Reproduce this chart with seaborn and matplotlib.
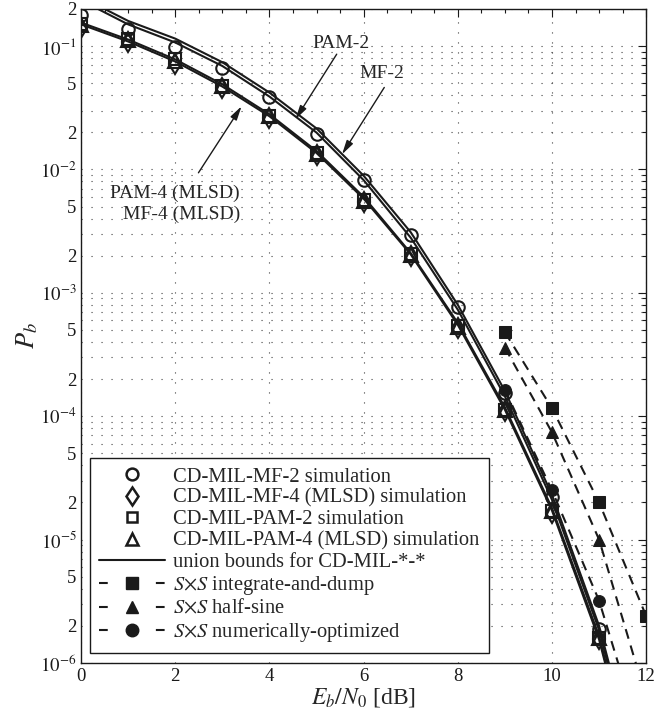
import matplotlib
matplotlib.use("Agg")
import matplotlib.pyplot as plt
import seaborn as sns
from matplotlib.lines import Line2D
from matplotlib.ticker import FixedLocator, FixedFormatter, MultipleLocator

# Eb/N0 grid (dB)
ebn0_bound = [0, 1, 2, 3, 4, 5, 6, 7, 8, 9, 10, 11, 12]
ebn0_sim = [0, 1, 2, 3, 4, 5, 6, 7, 8, 9, 10, 11]
ebn0_sxs = [9, 10, 11, 12]

# union bounds (solid lines)
bound_mf2 = [0.25, 0.16, 0.115, 0.074, 0.042, 0.0215, 0.0089, 0.0031, 8.0e-4, 1.6e-4, 2.3e-5, 2.0e-6, 7e-8]
bound_pam2 = [0.235, 0.15, 0.107, 0.069, 0.039, 0.0199, 0.0082, 0.0028, 7.3e-4, 1.45e-4, 2.1e-5, 1.85e-6, 6e-8]
bound_mf4 = [0.155, 0.113, 0.078, 0.049, 0.028, 0.0141, 0.006, 0.0021, 5.7e-4, 1.18e-4, 1.8e-5, 1.65e-6, 5e-8]
bound_pam4 = [0.15, 0.109, 0.075, 0.047, 0.027, 0.0136, 0.0058, 0.00205, 5.5e-4, 1.13e-4, 1.72e-5, 1.55e-6, 5e-8]

# simulation points (open markers)
sim_mf2 = [0.18, 0.138, 0.098, 0.066, 0.0388, 0.0194, 0.0082, 0.00295, 7.7e-4, 1.55e-4, 2.2e-5, 1.9e-6]
sim_mf4 = [0.14, 0.107, 0.072, 0.046, 0.026, 0.013, 0.0055, 0.002, 5.2e-4, 1.1e-4, 1.65e-5, 1.55e-6]
sim_pam2 = [0.152, 0.114, 0.078, 0.0478, 0.0272, 0.0135, 0.0057, 0.00205, 5.4e-4, 1.12e-4, 1.7e-5, 1.6e-6]
sim_pam4 = [0.148, 0.113, 0.076, 0.0475, 0.027, 0.0133, 0.0056, 0.00204, 5.3e-4, 1.12e-4, 1.7e-5, 1.6e-6]

# SxS systems (dashed with filled markers)
sxs_id = [4.8e-4, 1.16e-4, 2.0e-5, 2.4e-6]
sxs_hs = [3.6e-4, 7.4e-5, 1.0e-5, 5.2e-7]
sxs_opt = [1.64e-4, 2.5e-5, 3.2e-6, 1.8e-7]

legend_labels = [
    "CD-MIL-MF-2 simulation",
    "CD-MIL-MF-4 (MLSD) simulation",
    "CD-MIL-PAM-2 simulation",
    "CD-MIL-PAM-4 (MLSD) simulation",
    "union bounds for CD-MIL-*-*",
    r"$S{\times}S$ integrate-and-dump",
    r"$S{\times}S$ half-sine",
    r"$S{\times}S$ numerically-optimized",
]

sns.set_theme(style="white")
plt.rcParams["font.family"] = ["Liberation Serif", "DejaVu Serif"]
plt.rcParams["mathtext.fontset"] = "stix"

fig = plt.figure(figsize=(6.54, 7.19), dpi=100)
ax = fig.add_axes([0.124, 0.078, 0.864, 0.9095])
ax.set_yscale("log")

LW = 1.5
# union bounds
for yb in [bound_mf2, bound_pam2, bound_mf4, bound_pam4]:
    sns.lineplot(x=ebn0_bound, y=yb, ax=ax, color="k", lw=LW)

# dashed SxS curves
for ys, mk in [(sxs_id, "s"), (sxs_hs, "^"), (sxs_opt, "o")]:
    sns.lineplot(x=ebn0_sxs, y=ys, ax=ax, color="k", lw=LW, marker=mk,
                 ms=8.5, mec="k", mfc="k")
    ax.lines[-1].set_dashes((4.8, 3.4))

# simulation markers
for ys, mk, ms in [(sim_mf2, "o", 9), (sim_mf4, "d", 10), (sim_pam2, "s", 8), (sim_pam4, "^", 9.5)]:
    sns.lineplot(x=ebn0_sim, y=ys, ax=ax, color="k", marker=mk, ms=ms,
                 mfc="none", mec="k", mew=1.5, linestyle="none")

ax.set_xlim(0, 12)
ax.set_ylim(1e-6, 0.2)

# ticks
ax.xaxis.set_major_locator(MultipleLocator(2))
ax.xaxis.set_minor_locator(MultipleLocator(0.5))
major_y = [10.0 ** k for k in range(-6, 0)]
ax.yaxis.set_major_locator(FixedLocator(major_y))
ax.yaxis.set_major_formatter(FixedFormatter([r"$10^{%d}$" % k for k in range(-6, 0)]))
minor_y, minor_lab = [], []
for k in range(-6, 0):
    for m in range(2, 10):
        v = m * 10.0 ** k
        if v <= 0.2 + 1e-12:
            minor_y.append(v)
            minor_lab.append(str(m) if m in (2, 5) else "")
ax.yaxis.set_minor_locator(FixedLocator(minor_y))
ax.yaxis.set_minor_formatter(FixedFormatter(minor_lab))

ax.tick_params(which="both", direction="in", top=True, right=True, colors="k",
               labelsize=13.5, width=0.8)
ax.tick_params(which="major", length=6)
ax.tick_params(which="minor", length=3)
ax.tick_params(axis="y", which="minor", labelsize=13.5)

# grid (MATLAB style dotted)
grid_kw = dict(color="0.25", lw=0.8, linestyle=(0, (1, 8)))
ax.grid(True, which="major", axis="x", **grid_kw)
ax.grid(True, which="both", axis="y", **grid_kw)
for s in ax.spines.values():
    s.set_color("k")
    s.set_linewidth(1.0)

ax.set_xlabel(r"$E_b/N_0$ [dB]", fontsize=17, labelpad=1)
ax.set_ylabel(r"$P_b$", fontsize=19, labelpad=0)

# annotations
arrow_kw = dict(arrowstyle="-|>,head_length=0.7,head_width=0.18", color="k", lw=1)
ax.text(5.51, 0.106, "PAM-2", fontsize=14, ha="center", va="center")
ax.annotate("", xy=(4.52, 0.0244), xytext=(5.46, 0.0899), arrowprops=arrow_kw)
ax.text(6.39, 0.060, "MF-2", fontsize=14, ha="center", va="center")
ax.annotate("", xy=(5.51, 0.0127), xytext=(6.47, 0.0483), arrowprops=arrow_kw)
ax.text(3.37, 0.0053, "PAM-4 (MLSD)\nMF-4 (MLSD)", fontsize=14, ha="right",
        va="center", multialignment="right", linespacing=1.3)
ax.annotate("", xy=(3.44, 0.034), xytext=(2.46, 0.009), arrowprops=arrow_kw)

# legend proxies; dashed ones show a short dash at each end of the handle
leg_dash = (0, (4.2, 23.1))
handles = [
    Line2D([], [], ls="none", marker="o", mfc="none", mec="k", mew=1.8, ms=8.5),
    Line2D([], [], ls="none", marker="d", mfc="none", mec="k", mew=1.8, ms=9.5),
    Line2D([], [], ls="none", marker="s", mfc="none", mec="k", mew=1.8, ms=7.5),
    Line2D([], [], ls="none", marker="^", mfc="none", mec="k", mew=1.8, ms=9),
    Line2D([], [], color="k", lw=LW),
    Line2D([], [], color="k", lw=LW, marker="s", ms=8.5, linestyle=leg_dash),
    Line2D([], [], color="k", lw=LW, marker="^", ms=9, linestyle=leg_dash),
    Line2D([], [], color="k", lw=LW, marker="o", ms=9, linestyle=leg_dash),
]
leg = ax.legend(handles, legend_labels, loc="lower left", bbox_to_anchor=(0.016, 0.015),
                borderaxespad=0, fontsize=14.8, frameon=True, fancybox=False,
                framealpha=1, edgecolor="k", handlelength=3.2, handletextpad=0.4,
                labelspacing=0.1, borderpad=0.45)
leg.get_frame().set_linewidth(1.0)

fig.savefig("out.png", dpi=100)
